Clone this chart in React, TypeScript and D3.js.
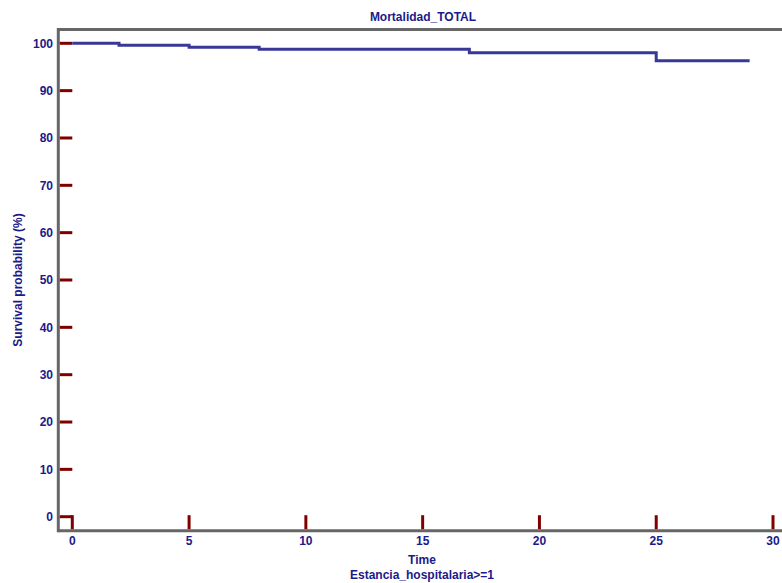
// App.tsx
import React from 'react';
import * as d3 from 'd3';

const title = 'Mortalidad_TOTAL';
const xLabel = 'Time';
const xSubLabel = 'Estancia_hospitalaria>=1';
const yLabel = 'Survival probability (%)';

// step survival curve: times and survival values
const times = [0, 2, 5, 8, 17, 25, 29];
const survival = [100, 99.58, 99.15, 98.73, 98.0, 96.3, 96.3];

const xTicks = [0, 5, 10, 15, 20, 25, 30];
const yTicks = [0, 10, 20, 30, 40, 50, 60, 70, 80, 90, 100];

const W = 782;
const H = 583;
const textColor = '#1a1a8a';
const tickColor = '#800000';
const frameColor = '#666666';
const lineColor = '#383899';

const App = () => {
  const x = d3.scaleLinear().domain([0, 30]).range([72.3, 773]);
  const y = d3.scaleLinear().domain([0, 100]).range([516.7, 43.3]);

  const left = x(0) - 14;
  const bottom = y(0) + 14;
  const top = 29.5;

  const pts: [number, number][] = times.map((t, i) => [t, survival[i]]);
  const line = d3.line<[number, number]>()
    .x(d => x(d[0]))
    .y(d => y(d[1]))
    .curve(d3.curveStepAfter);

  const font = 'Arial, "Liberation Sans", sans-serif';

  return (
    <svg width={W} height={H} style={{ position: 'absolute', left: 0, top: 0 }}
      fontFamily={font} fontWeight="bold" fontSize={12}>
      <rect width={W} height={H} fill="#fff" />

      {/* title */}
      <text x={423} y={21} textAnchor="middle" fill={textColor}>{title}</text>

      {/* frame */}
      <line x1={left} x2={W} y1={top} y2={top} stroke={frameColor} strokeWidth={3} />
      <line x1={left} x2={left} y1={top - 1.5} y2={bottom + 1.5} stroke={frameColor} strokeWidth={3} />
      <line x1={left} x2={W} y1={bottom} y2={bottom} stroke={frameColor} strokeWidth={3} />

      {/* y ticks */}
      {yTicks.map(t => (
        <g key={'y' + t}>
          <line x1={left + 1.5} x2={x(0)} y1={y(t)} y2={y(t)} stroke={tickColor} strokeWidth={3} />
          <text x={53} y={y(t)} dy="0.35em" textAnchor="end" fill={textColor}>{t}</text>
        </g>
      ))}

      {/* x ticks */}
      {xTicks.map(t => (
        <g key={'x' + t}>
          <line x1={x(t)} x2={x(t)} y1={bottom - 1.5} y2={y(0) - 1.5} stroke={tickColor} strokeWidth={3} />
          <text x={x(t)} y={545} textAnchor="middle" fill={textColor}>{t}</text>
        </g>
      ))}

      {/* survival curve */}
      <path d={line(pts) || ''} fill="none" stroke={lineColor} strokeWidth={3} />

      {/* axis labels */}
      <text x={422} y={563.5} textAnchor="middle" fill={textColor}>{xLabel}</text>
      <text x={422} y={578.5} textAnchor="middle" fill={textColor}>{xSubLabel}</text>
      <text transform={`translate(22, 280) rotate(-90)`} textAnchor="middle" fill={textColor}>{yLabel}</text>
    </svg>
  );
};

export default App;
